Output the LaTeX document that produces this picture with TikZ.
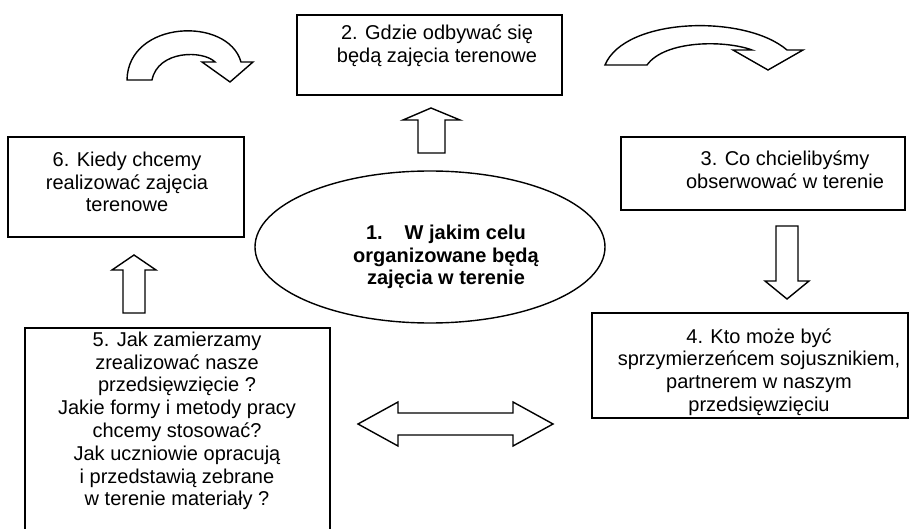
\documentclass[tikz,border=0pt]{standalone}
\usepackage{fontspec}
\setmainfont{Liberation Sans}
\usetikzlibrary{shapes.geometric}
\begin{document}
\begin{tikzpicture}[x=1pt,y=-1pt,
  box/.style={draw, line width=1.4pt, inner sep=0pt},
  txt/.style={align=center, font=\fontsize{20}{22.8}\selectfont, inner sep=0pt},
  blk/.style={draw, line width=1.4pt, fill=white, line join=miter}]
\useasboundingbox (0,0) rectangle (915,529);
\clip (0,0) rectangle (915,529);

% boxes
\node[box, minimum width=265pt, minimum height=80pt] (b2) at (429.5,55) {};
\node[box, minimum width=236pt, minimum height=100pt] (b6) at (126,187) {};
\node[box, minimum width=284pt, minimum height=73pt] (b3) at (763,173.5) {};
\node[box, minimum width=316pt, minimum height=105pt] (b4) at (750,365.5) {};
\node[box, minimum width=305pt, minimum height=232pt] (b5) at (177.5,444) {};
\node[box, ellipse, minimum width=350pt, minimum height=152pt] (b1) at (430,247) {};

% texts
\node[txt] (t2) at (437,46) {2. Gdzie odbywać się\\będą zajęcia terenowe};
\node[txt] (t6) at (127,182) {6. Kiedy chcemy\\realizować zajęcia\\terenowe};
\node[txt] (t3) at (785,170) {3. Co chcielibyśmy\\obserwować w terenie};
\node[txt] (t4) at (759,372) {4. Kto może być\\sprzymierzeńcem sojusznikiem,\\partnerem w naszym\\przedsięwzięciu};
\node[txt] (t5) at (177,421) {5. Jak zamierzamy\\zrealizować nasze\\przedsięwzięcie ?\\Jakie formy i metody pracy\\chcemy stosować?\\Jak uczniowie opracują\\i przedstawią zebrane\\w terenie materiały ?};
\node[txt, font=\fontsize{20}{22.8}\selectfont\bfseries] (t1) at (446,257) {1.\hspace{22pt}W jakim celu\\organizowane będą\\zajęcia w terenie};

% curved arrows
\draw[blk] (127,80) .. controls (128,20) and (228,16) .. (241,62) -- (253,62) -- (230,82) -- (202,62) -- (215,62) .. controls (203,50) and (158,50) .. (152,80) -- cycle;
\draw[blk] (605,65) .. controls (625,17) and (745,14) .. (787,50) -- (803,50) -- (768,70) -- (733,50) -- (752,50) .. controls (725,40) and (665,40) .. (647,65) -- cycle;

% straight block arrows
\draw[blk] (418,153) -- (418,120) -- (403,120) -- (431,108) -- (460,120) -- (445,120) -- (445,153) -- cycle;
\draw[blk] (123,313) -- (123,270) -- (112,270) -- (134,255) -- (156,270) -- (145,270) -- (145,313) -- cycle;
\draw[blk] (776,226) -- (798,226) -- (798,281) -- (809,281) -- (787,299) -- (765,281) -- (776,281) -- cycle;
\draw[blk] (358,424) -- (398,402) -- (398,413) -- (513,413) -- (513,402) -- (553,424) -- (513,446) -- (513,435) -- (398,435) -- (398,446) -- cycle;
\end{tikzpicture}
\end{document}
